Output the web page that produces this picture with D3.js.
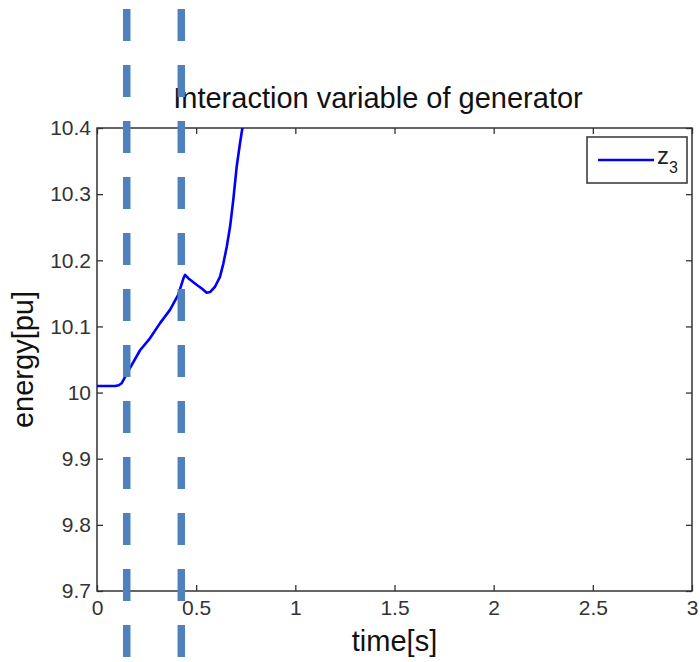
<!DOCTYPE html>
<html>
<head>
<meta charset="utf-8">
<script src="https://cdn.jsdelivr.net/npm/d3@7/dist/d3.min.js"></script>
<style>
  html, body { margin: 0; padding: 0; background: #fff; }
  svg { display: block; }
  .tick text { font-family: "Liberation Sans", Arial, sans-serif; font-size: 21px; fill: #333; }
  .tick line { stroke: #333; stroke-width: 1.3; }
  .domain { display: none; }
</style>
</head>
<body>
<svg id="chart" width="700" height="662"></svg>
<script>
// Interaction variable z3 of the generator over time
const timeS = [0, 0.09, 0.11, 0.124, 0.166, 0.217, 0.267, 0.318, 0.368, 0.41, 0.435, 0.444,
               0.46, 0.502, 0.53, 0.553, 0.57, 0.595, 0.62, 0.637, 0.654, 0.671, 0.687,
               0.704, 0.721, 0.733, 0.745];
const energyPu = [10.010, 10.010, 10.011, 10.014, 10.037, 10.064, 10.082, 10.105, 10.125,
                  10.148, 10.172, 10.178, 10.173, 10.163, 10.157, 10.151, 10.152, 10.160,
                  10.175, 10.195, 10.220, 10.251, 10.291, 10.341, 10.377, 10.400, 10.430];

// Event markers (fault on / fault cleared)
const eventTimes = [0.15, 0.425];

const xTicks = [0, 0.5, 1, 1.5, 2, 2.5, 3];
const yTicks = [9.7, 9.8, 9.9, 10.0, 10.1, 10.2, 10.3, 10.4];

const titleText = "Interaction variable of generator";
const xLabel = "time[s]";
const yLabel = "energy[pu]";

const svg = d3.select("#chart");
const W = 700, H = 662;
const m = { left: 97, right: 8, top: 128, bottom: 71 };
const pw = W - m.left - m.right, ph = H - m.top - m.bottom;

const x = d3.scaleLinear().domain([0, 3]).range([m.left, m.left + pw]);
const y = d3.scaleLinear().domain([9.7, 10.4]).range([m.top + ph, m.top]);

const fmt = d => String(+d.toFixed(1));

svg.append("defs").append("clipPath").attr("id", "plotClip")
  .append("rect").attr("x", m.left).attr("y", m.top).attr("width", pw).attr("height", ph);

// axes with inward ticks on all four sides
svg.append("g").attr("transform", `translate(0,${m.top + ph})`)
  .call(d3.axisBottom(x).tickValues(xTicks).tickFormat(fmt).tickSizeInner(-6).tickSizeOuter(0).tickPadding(9));
svg.append("g").attr("transform", `translate(0,${m.top})`)
  .call(d3.axisTop(x).tickValues(xTicks).tickFormat("").tickSizeInner(-6).tickSizeOuter(0));
svg.append("g").attr("transform", `translate(${m.left},0)`)
  .call(d3.axisLeft(y).tickValues(yTicks).tickFormat(fmt).tickSizeInner(-6).tickSizeOuter(0).tickPadding(6));
svg.append("g").attr("transform", `translate(${m.left + pw},0)`)
  .call(d3.axisRight(y).tickValues(yTicks).tickFormat("").tickSizeInner(-6).tickSizeOuter(0));

svg.append("rect").attr("x", m.left).attr("y", m.top).attr("width", pw).attr("height", ph)
  .attr("fill", "none").attr("stroke", "#333").attr("stroke-width", 1.5);

// curve
const line = d3.line().x((d, i) => x(timeS[i])).y(d => y(d)).curve(d3.curveLinear);
svg.append("path").datum(energyPu)
  .attr("clip-path", "url(#plotClip)")
  .attr("d", line)
  .attr("fill", "none").attr("stroke", "#0000ff").attr("stroke-width", 2.6)
  .attr("stroke-linejoin", "round");

// legend
const lg = svg.append("g");
lg.append("rect").attr("x", 587).attr("y", 137).attr("width", 100).attr("height", 46)
  .attr("fill", "#fff").attr("stroke", "#333").attr("stroke-width", 1.5);
lg.append("line").attr("x1", 598).attr("x2", 654).attr("y1", 160).attr("y2", 160)
  .attr("stroke", "#0000ff").attr("stroke-width", 2.6);
const lt = lg.append("text").attr("x", 657).attr("y", 164)
  .attr("font-family", "Liberation Sans, Arial, sans-serif").attr("font-size", 24).attr("fill", "#222");
lt.append("tspan").text("z");
lt.append("tspan").attr("dy", 9).attr("font-size", 16).text("3");

// titles
svg.append("text").attr("x", 378).attr("y", 108).attr("text-anchor", "middle")
  .attr("font-family", "Liberation Sans, Arial, sans-serif").attr("font-size", 29).attr("fill", "#111")
  .text(titleText);
svg.append("text").attr("x", m.left + pw / 2).attr("y", 651).attr("text-anchor", "middle")
  .attr("font-family", "Liberation Sans, Arial, sans-serif").attr("font-size", 29).attr("fill", "#111")
  .text(xLabel);
svg.append("text").attr("transform", `translate(33,${m.top + ph / 2}) rotate(-90)`)
  .attr("text-anchor", "middle")
  .attr("font-family", "Liberation Sans, Arial, sans-serif").attr("font-size", 29).attr("fill", "#111")
  .text(yLabel);

// dashed event markers drawn over everything
svg.selectAll("line.event").data(eventTimes).join("line")
  .attr("class", "event")
  .attr("x1", d => x(d)).attr("x2", d => x(d))
  .attr("y1", 9).attr("y2", H)
  .attr("stroke", "#4f81bd").attr("stroke-width", 7.5)
  .attr("stroke-dasharray", "32,24");
</script>
</body>
</html>
